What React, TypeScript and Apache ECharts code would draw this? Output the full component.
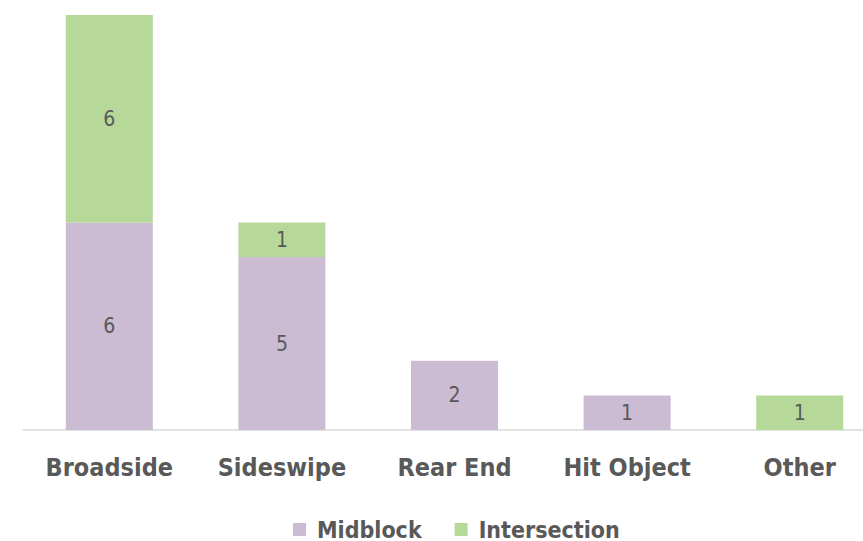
import React, { useEffect, useRef } from "react";
import * as echarts from "echarts";

const categories = ["Broadside", "Sideswipe", "Rear End", "Hit Object", "Other"];
const midblock = [6, 5, 2, 1, 0];
const intersection = [6, 1, 0, 0, 1];

const FONT = "'DejaVu Sans Condensed', 'Liberation Sans Narrow', 'DejaVu Sans', sans-serif";
const TEXT = "#595959";

export default function App() {
  const ref = useRef<HTMLDivElement>(null);

  useEffect(() => {
    if (!ref.current) return;
    const chart = echarts.init(ref.current, undefined, { renderer: "svg" });
    const label = {
      show: true,
      position: "inside" as const,
      color: TEXT,
      fontFamily: FONT,
      fontSize: 21,
      fontWeight: "lighter" as const,
      formatter: (p: any) => (p.value ? String(p.value) : ""),
    };
    chart.setOption({
      animation: false,
      grid: { left: 23, right: 0, top: 15, bottom: 111, containLabel: false },
      legend: {
        top: 518,
        left: 293,
        padding: 0,
        itemWidth: 13,
        itemHeight: 13,
        itemGap: 33,
        icon: "rect",
        textStyle: {
          color: TEXT,
          fontFamily: FONT,
          fontSize: 23,
          lineHeight: 23,
          fontWeight: "bold",
          padding: [0, 0, 0, 6],
        },
        data: ["Midblock", "Intersection"],
      },
      xAxis: {
        type: "category",
        data: categories,
        axisTick: { show: false },
        axisLine: { lineStyle: { color: "#d9d9d9", width: 1.5 } },
        axisLabel: {
          color: TEXT,
          fontFamily: FONT,
          fontSize: 25,
          fontWeight: "bold",
          margin: 25,
        },
      },
      yAxis: { type: "value", min: 0, max: 12, show: false, splitLine: { show: false } },
      series: [
        {
          name: "Midblock",
          type: "bar",
          stack: "total",
          barWidth: 87,
          data: midblock,
          itemStyle: { color: "#cbbbd3" },
          label,
        },
        {
          name: "Intersection",
          type: "bar",
          stack: "total",
          barWidth: 87,
          data: intersection,
          itemStyle: { color: "#b6d999" },
          label,
        },
      ],
    });
    return () => chart.dispose();
  }, []);

  return (
    <div
      style={{
        position: "fixed",
        left: 0,
        top: 0,
        width: 863,
        height: 541,
        overflow: "hidden",
        background: "#fff",
      }}
    >
      <div ref={ref} style={{ width: 886, height: 541 }} />
    </div>
  );
}
